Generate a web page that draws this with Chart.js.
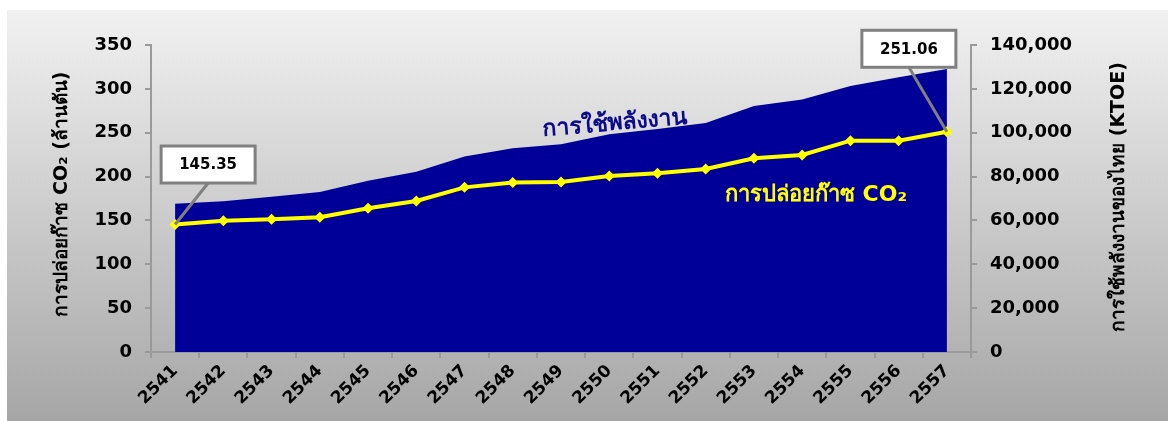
<!DOCTYPE html>
<html>
<head>
<meta charset="utf-8">
<script src="https://cdn.jsdelivr.net/npm/chart.js@4"></script>
<style>
  html, body { margin: 0; padding: 0; background: #fff; }
  #wrap { width: 1168px; height: 421px; }
</style>
</head>
<body>
<div id="wrap"><canvas id="myChart" width="1168" height="421"></canvas></div>
<script>
// ปี พ.ศ.
const years = ['2541', '2542', '2543', '2544', '2545', '2546', '2547', '2548', '2549',
  '2550', '2551', '2552', '2553', '2554', '2555', '2556', '2557'];
// การปล่อยก๊าซ CO2 (ล้านตัน) - แกนซ้าย
const co2 = [145.35, 149.7, 151.3, 153.6, 163.8, 172.2, 187.7, 193.1, 193.8,
  200.7, 203.7, 208.6, 220.8, 224.6, 240.9, 240.9, 251.06];
// การใช้พลังงาน (KTOE) - แกนขวา
const energy = [67600, 68700, 70800, 73000, 78100, 82200, 89100, 92900, 94700,
  99300, 101700, 104400, 112200, 115200, 121300, 125300, 129000];

const fontName = '"DejaVu Sans", sans-serif';
const leftTitle = 'การปล่อยก๊าซ CO₂ (ล้านตัน)';
const rightTitle = 'การใช้พลังงานของไทย (KTOE)';
const axisGrey = '#9a9a9a';

// พื้นหลังไล่สีเทา
const bgPlugin = {
  id: 'bg',
  beforeDraw(chart) {
    const c = chart.ctx;
    c.save();
    c.fillStyle = '#ffffff';
    c.fillRect(0, 0, chart.width, chart.height);
    const g = c.createLinearGradient(0, 10, 0, chart.height);
    g.addColorStop(0, '#f1f1f1');
    g.addColorStop(1, '#a6a6a6');
    c.fillStyle = g;
    c.fillRect(7, 10, chart.width - 7, chart.height - 10);
    c.restore();
  }
};

function callout(c, px, py, bx, by, text) {
  const w = 94, h = 37;
  c.save();
  c.strokeStyle = '#808080';
  c.lineWidth = 3;
  c.beginPath();
  c.moveTo(bx, by + h / 2);
  c.lineTo(px, py);
  c.stroke();
  c.fillStyle = '#ffffff';
  c.fillRect(bx - w / 2, by - h / 2, w, h);
  c.strokeRect(bx - w / 2, by - h / 2, w, h);
  c.fillStyle = '#000';
  c.font = 'bold 15px ' + fontName;
  c.textAlign = 'center';
  c.textBaseline = 'middle';
  c.fillText(text, bx, by + 1);
  c.restore();
}

// ป้ายข้อความ + ชื่อแกน
const textPlugin = {
  id: 'texts',
  afterDatasetsDraw(chart) {
    const c = chart.ctx;
    const pts = chart.getDatasetMeta(1).data;
    const first = pts[0], last = pts[pts.length - 1];
    callout(c, first.x, first.y, first.x + 33, first.y - 60, co2[0].toFixed(2));
    callout(c, last.x, last.y, last.x - 38, last.y - 83, co2[co2.length - 1].toFixed(2));

    c.save();
    c.font = 'bold 23px ' + fontName;
    c.fillStyle = '#0a0a8a';
    c.textAlign = 'center';
    c.textBaseline = 'middle';
    c.translate(615, 124);
    c.rotate(-4.5 * Math.PI / 180);
    c.fillText('การใช้พลังงาน', 0, 0);
    c.restore();

    c.save();
    c.font = 'bold 22px ' + fontName;
    c.fillStyle = '#ffff00';
    c.textAlign = 'center';
    c.textBaseline = 'middle';
    c.fillText('การปล่อยก๊าซ CO₂', 816, 195);
    c.restore();
  },
  afterDraw(chart) {
    const c = chart.ctx;
    c.save();
    c.font = 'bold 19px ' + fontName;
    c.fillStyle = '#000';
    c.textAlign = 'center';
    c.textBaseline = 'middle';
    c.translate(62, 194);
    c.rotate(-Math.PI / 2);
    c.fillText(leftTitle, 0, 0);
    c.restore();

    c.save();
    c.font = 'bold 19px ' + fontName;
    c.fillStyle = '#000';
    c.textAlign = 'center';
    c.textBaseline = 'middle';
    c.translate(1119, 197);
    c.rotate(-Math.PI / 2);
    c.fillText(rightTitle, 0, 0);
    c.restore();
  }
};

new Chart(document.getElementById('myChart'), {
  data: {
    labels: years,
    datasets: [{
      type: 'line',
      label: 'energy',
      data: energy,
      yAxisID: 'y1',
      fill: 'origin',
      backgroundColor: '#000099',
      borderWidth: 0,
      pointRadius: 0,
      tension: 0,
      order: 2
    }, {
      type: 'line',
      label: 'co2',
      data: co2,
      yAxisID: 'y',
      borderColor: '#ffff00',
      backgroundColor: '#ffff00',
      borderWidth: 4,
      pointStyle: 'rectRot',
      pointRadius: 5.5,
      pointBorderWidth: 0,
      tension: 0,
      fill: false,
      order: 1
    }]
  },
  options: {
    responsive: false,
    animation: false,
    devicePixelRatio: 1,
    layout: { padding: { left: 0, right: 0, top: 45, bottom: 0 } },
    plugins: {
      legend: { display: false },
      tooltip: { enabled: false }
    },
    scales: {
      x: {
        type: 'category',
        offset: true,
        afterFit: s => { s.height = 69; },
        grid: { offset: true, drawOnChartArea: false, tickLength: 6, color: axisGrey, lineWidth: 2 },
        border: { color: axisGrey, width: 2 },
        ticks: {
          maxRotation: 45, minRotation: 45, padding: 3,
          color: '#000', font: { family: fontName, size: 17, weight: 'bold' }
        }
      },
      y: {
        position: 'left',
        min: 0, max: 350,
        afterFit: s => { s.width = 151; },
        grid: { drawOnChartArea: false, tickLength: 6, color: axisGrey, lineWidth: 2 },
        border: { color: axisGrey, width: 2 },
        ticks: {
          stepSize: 50, padding: 13,
          color: '#000', font: { family: fontName, size: 18, weight: 'bold' }
        }
      },
      y1: {
        position: 'right',
        min: 0, max: 140000,
        afterFit: s => { s.width = 197; },
        grid: { drawOnChartArea: false, tickLength: 6, color: axisGrey, lineWidth: 2 },
        border: { color: axisGrey, width: 2 },
        ticks: {
          stepSize: 20000, padding: 13,
          color: '#000', font: { family: fontName, size: 18, weight: 'bold' },
          callback: v => v.toLocaleString('en-US')
        }
      }
    }
  },
  plugins: [bgPlugin, textPlugin]
});
</script>
</body>
</html>
